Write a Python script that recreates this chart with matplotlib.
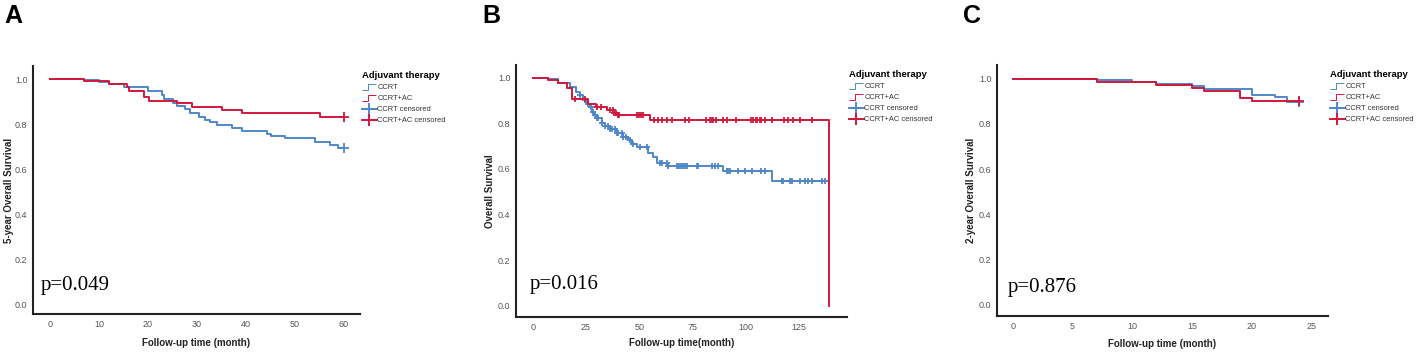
import matplotlib
matplotlib.use("Agg")
import matplotlib.pyplot as plt
import numpy as np
from matplotlib.lines import Line2D
from matplotlib.path import Path

plt.rcParams["font.family"] = ["Liberation Sans", "DejaVu Sans"]

BLUE = "#4e87c9"
RED = "#d1183d"

# ---------------------------------------------------------------------------
# Data: step times (month) and survival levels
# ---------------------------------------------------------------------------
# Panel A: 5-year OS
a_ccrt_t = [0, 7.0, 10.0, 12.0, 15.0, 20.0, 22.8, 23.2, 25.0, 26.0, 27.5, 28.6,
            30.5, 31.6, 32.6, 34.0, 37.1, 39.1, 44.2, 45.2, 48.0, 54.1, 57.1, 58.8]
a_ccrt_s = [1.0, 0.995, 0.988, 0.977, 0.965, 0.945, 0.928, 0.910, 0.895, 0.880, 0.865, 0.848,
            0.832, 0.818, 0.808, 0.796, 0.784, 0.769, 0.756, 0.748, 0.737, 0.719, 0.707, 0.692]
a_ccrt_end = 60.0
a_ccrt_cens = [60.0]
a_ac_t = [0, 7.0, 12.0, 15.8, 16.2, 19.2, 20.1, 25.9, 29.0, 35.1, 39.1, 55.1]
a_ac_s = [1.0, 0.99, 0.976, 0.963, 0.948, 0.921, 0.902, 0.892, 0.877, 0.862, 0.847, 0.830]
a_ac_end = 60.0
a_ac_cens = [60.0]

# Panel B: overall survival
b_ccrt_t = [0, 7.3, 12.0, 17.5, 20.3, 22.2, 23.5, 24.5, 25.5, 26.5, 27.7, 28.8, 30.0,
            32.3, 33.9, 36.2, 39.4, 42.5, 44.9, 46.4, 48.8, 54.3, 56.6, 58.2, 62.9,
            89.4, 112.0]
b_ccrt_s = [1.0, 0.993, 0.975, 0.960, 0.939, 0.924, 0.912, 0.902, 0.887, 0.871, 0.851,
            0.836, 0.822, 0.803, 0.788, 0.774, 0.756, 0.741, 0.727, 0.709, 0.697, 0.668,
            0.654, 0.627, 0.614, 0.592, 0.549]
b_ccrt_end = 137.8
b_ccrt_cens = [22.2, 24.5, 26.1, 27.6, 28.4, 29.2, 30.0, 30.8, 32.3, 33.9, 35.4, 36.2,
               37.0, 38.6, 39.4, 40.2, 41.7, 42.5, 44.0, 45.6, 47.2, 50.3, 53.4, 59.5,
               60.5, 62.8, 63.6, 67.5, 68.3, 69.0, 69.8, 70.6, 71.4, 72.2, 76.9, 77.7,
               83.9, 85.5, 87.1, 90.9, 91.7, 92.5, 96.4, 99.5, 102.7, 107.3, 108.9,
               116.7, 117.5, 120.6, 121.4, 125.3, 127.6, 129.2, 130.8, 135.9, 137.0]
b_ac_t = [0, 7.3, 12.0, 15.9, 18.3, 26.1, 29.7, 34.7, 37.8, 39.4, 55.0, 139.0]
b_ac_s = [1.0, 0.99, 0.975, 0.954, 0.905, 0.885, 0.873, 0.858, 0.846, 0.836, 0.814, 0.0]
b_ac_end = 139.0
b_ac_cens = [19.8, 24.5, 30.0, 31.9, 36.2, 37.5, 38.3, 39.1, 39.9, 40.5, 48.8, 49.8,
             50.8, 51.6, 56.9, 58.9, 60.8, 62.8, 65.2, 71.4, 73.3, 81.2, 83.1, 83.9,
             84.7, 85.9, 89.4, 91.2, 95.3, 102.2, 103.4, 104.5, 105.4, 106.6, 107.3,
             108.9, 112.0, 117.8, 119.8, 122.2, 125.3, 130.8]

# Panel C: 2-year OS
c_ccrt_t = [0, 7.0, 10.0, 12.0, 15.0, 16.0, 20.0, 22.0, 23.0]
c_ccrt_s = [1.0, 0.993, 0.987, 0.974, 0.966, 0.956, 0.929, 0.919, 0.895]
c_ccrt_end = 24.0
c_ccrt_cens = [24.0]
c_ac_t = [0, 7.0, 12.0, 15.0, 16.0, 19.0, 20.0]
c_ac_s = [1.0, 0.987, 0.973, 0.960, 0.944, 0.916, 0.900]
c_ac_end = 24.0
c_ac_cens = [24.0]

panel_labels = ["A", "B", "C"]
y_labels = ["5-year Overall Survival", "Overall Survival", "2-year Overall Survival"]
x_labels = ["Follow-up time (month)", "Follow-up time(month)", "Follow-up time (month)"]
p_texts = ["p=0.049", "p=0.016", "p=0.876"]
x_ticks = [[0, 10, 20, 30, 40, 50, 60], [0, 25, 50, 75, 100, 125], [0, 5, 10, 15, 20, 25]]
y_ticks = [0.0, 0.2, 0.4, 0.6, 0.8, 1.0]
legend_title = "Adjuvant therapy"
legend_labels = ["CCRT", "CCRT+AC", "CCRT censored", "CCRT+AC censored"]

panels = [
    dict(curves=[(a_ccrt_t, a_ccrt_s, a_ccrt_end, a_ccrt_cens, BLUE),
                 (a_ac_t, a_ac_s, a_ac_end, a_ac_cens, RED)],
         rect=[33, 66, 360, 314], xlim=(-3.5, 63.3), ylim=(-0.044, 1.058),
         ptxt=(0.024, 0.097), lab_x=4, ms=7, ylab=-0.072, xlab=-0.117),
    dict(curves=[(b_ccrt_t, b_ccrt_s, b_ccrt_end, b_ccrt_cens, BLUE),
                 (b_ac_t, b_ac_s, b_ac_end, b_ac_cens, RED)],
         rect=[516, 65, 847, 317], xlim=(-7.8, 147.4), ylim=(-0.049, 1.056),
         ptxt=(0.040, 0.112), lab_x=482, ms=5, ylab=-0.079, xlab=-0.104),
    dict(curves=[(c_ccrt_t, c_ccrt_s, c_ccrt_end, c_ccrt_cens, BLUE),
                 (c_ac_t, c_ac_s, c_ac_end, c_ac_cens, RED)],
         rect=[997, 65, 1328, 316], xlim=(-1.34, 26.4), ylim=(-0.049, 1.06),
         ptxt=(0.033, 0.097), lab_x=963, ms=7, ylab=-0.079, xlab=-0.112),
]

W, H = 1417, 354
fig = plt.figure(figsize=(W / 100, H / 100), dpi=100)

step_icon = Path([(-1.0, -0.45), (-0.1, -0.45), (-0.1, 0.45), (1.0, 0.45)],
                 [Path.MOVETO, Path.LINETO, Path.LINETO, Path.LINETO])

for i, p in enumerate(panels):
    x0, y0, x1, y1 = p["rect"]
    ax = fig.add_axes([x0 / W, 1 - y1 / H, (x1 - x0) / W, (y1 - y0) / H])
    for t, s, end, cens, col in p["curves"]:
        tt = np.array(list(t) + [end])
        ss = np.array(list(s) + [s[-1]])
        ax.step(tt, ss, where="post", color=col, lw=1.4)
        c = np.array(cens)
        idx = np.searchsorted(np.array(t), c, side="right") - 1
        cy = np.array(s)[idx]
        ax.plot(c, cy, linestyle="none", marker="+", color=col,
                markersize=p["ms"], markeredgewidth=1.3)

    ax.set_xlim(*p["xlim"])
    ax.set_ylim(*p["ylim"])
    ax.set_xticks(x_ticks[i])
    ax.set_yticks(y_ticks)
    ax.yaxis.set_major_formatter(matplotlib.ticker.FormatStrFormatter("%.1f"))
    ax.tick_params(length=0, labelsize=6.5, labelcolor="#555555", pad=4)
    for side in ["top", "right"]:
        ax.spines[side].set_visible(False)
    for side in ["left", "bottom"]:
        ax.spines[side].set_linewidth(1.5)
        ax.spines[side].set_color("#222222")

    ax.set_ylabel(y_labels[i], fontsize=7, fontweight="bold", color="#222222")
    ax.set_xlabel(x_labels[i], fontsize=7, fontweight="bold", color="#222222")
    ax.yaxis.set_label_coords(p["ylab"], 0.5)
    ax.xaxis.set_label_coords(0.5, p["xlab"])
    ax.xaxis.label.set_va("center")
    ax.yaxis.label.set_va("center")

    ax.text(p["ptxt"][0], p["ptxt"][1], p_texts[i], transform=ax.transAxes,
            family="Liberation Serif", fontsize=15, va="baseline", ha="left")

    handles = [
        Line2D([], [], color=BLUE, linestyle="none", marker=step_icon, markersize=10,
               markerfacecolor="none", markeredgewidth=0.7),
        Line2D([], [], color=RED, linestyle="none", marker=step_icon, markersize=10,
               markerfacecolor="none", markeredgewidth=0.7),
        Line2D([], [], color=BLUE, lw=1.4, marker="+", markersize=8, markeredgewidth=1.4),
        Line2D([], [], color=RED, lw=1.4, marker="+", markersize=8, markeredgewidth=1.4),
    ]
    leg = ax.legend(handles, legend_labels, title=legend_title, loc="upper left",
                    bbox_to_anchor=(1.0, 0.985), frameon=False, fontsize=5.4,
                    title_fontproperties=dict(size=6.8, weight="bold"),
                    handlelength=2.0, handletextpad=0.1, labelspacing=0.5,
                    borderaxespad=0.0, borderpad=0.2, alignment="left")
    for txt in leg.get_texts():
        txt.set_color("#333333")

    fig.text(p["lab_x"] / W, 1 - 4 / H, panel_labels[i], fontsize=18,
             fontweight="bold", va="top", ha="left")

fig.savefig("out.png", dpi=100, facecolor="white")
